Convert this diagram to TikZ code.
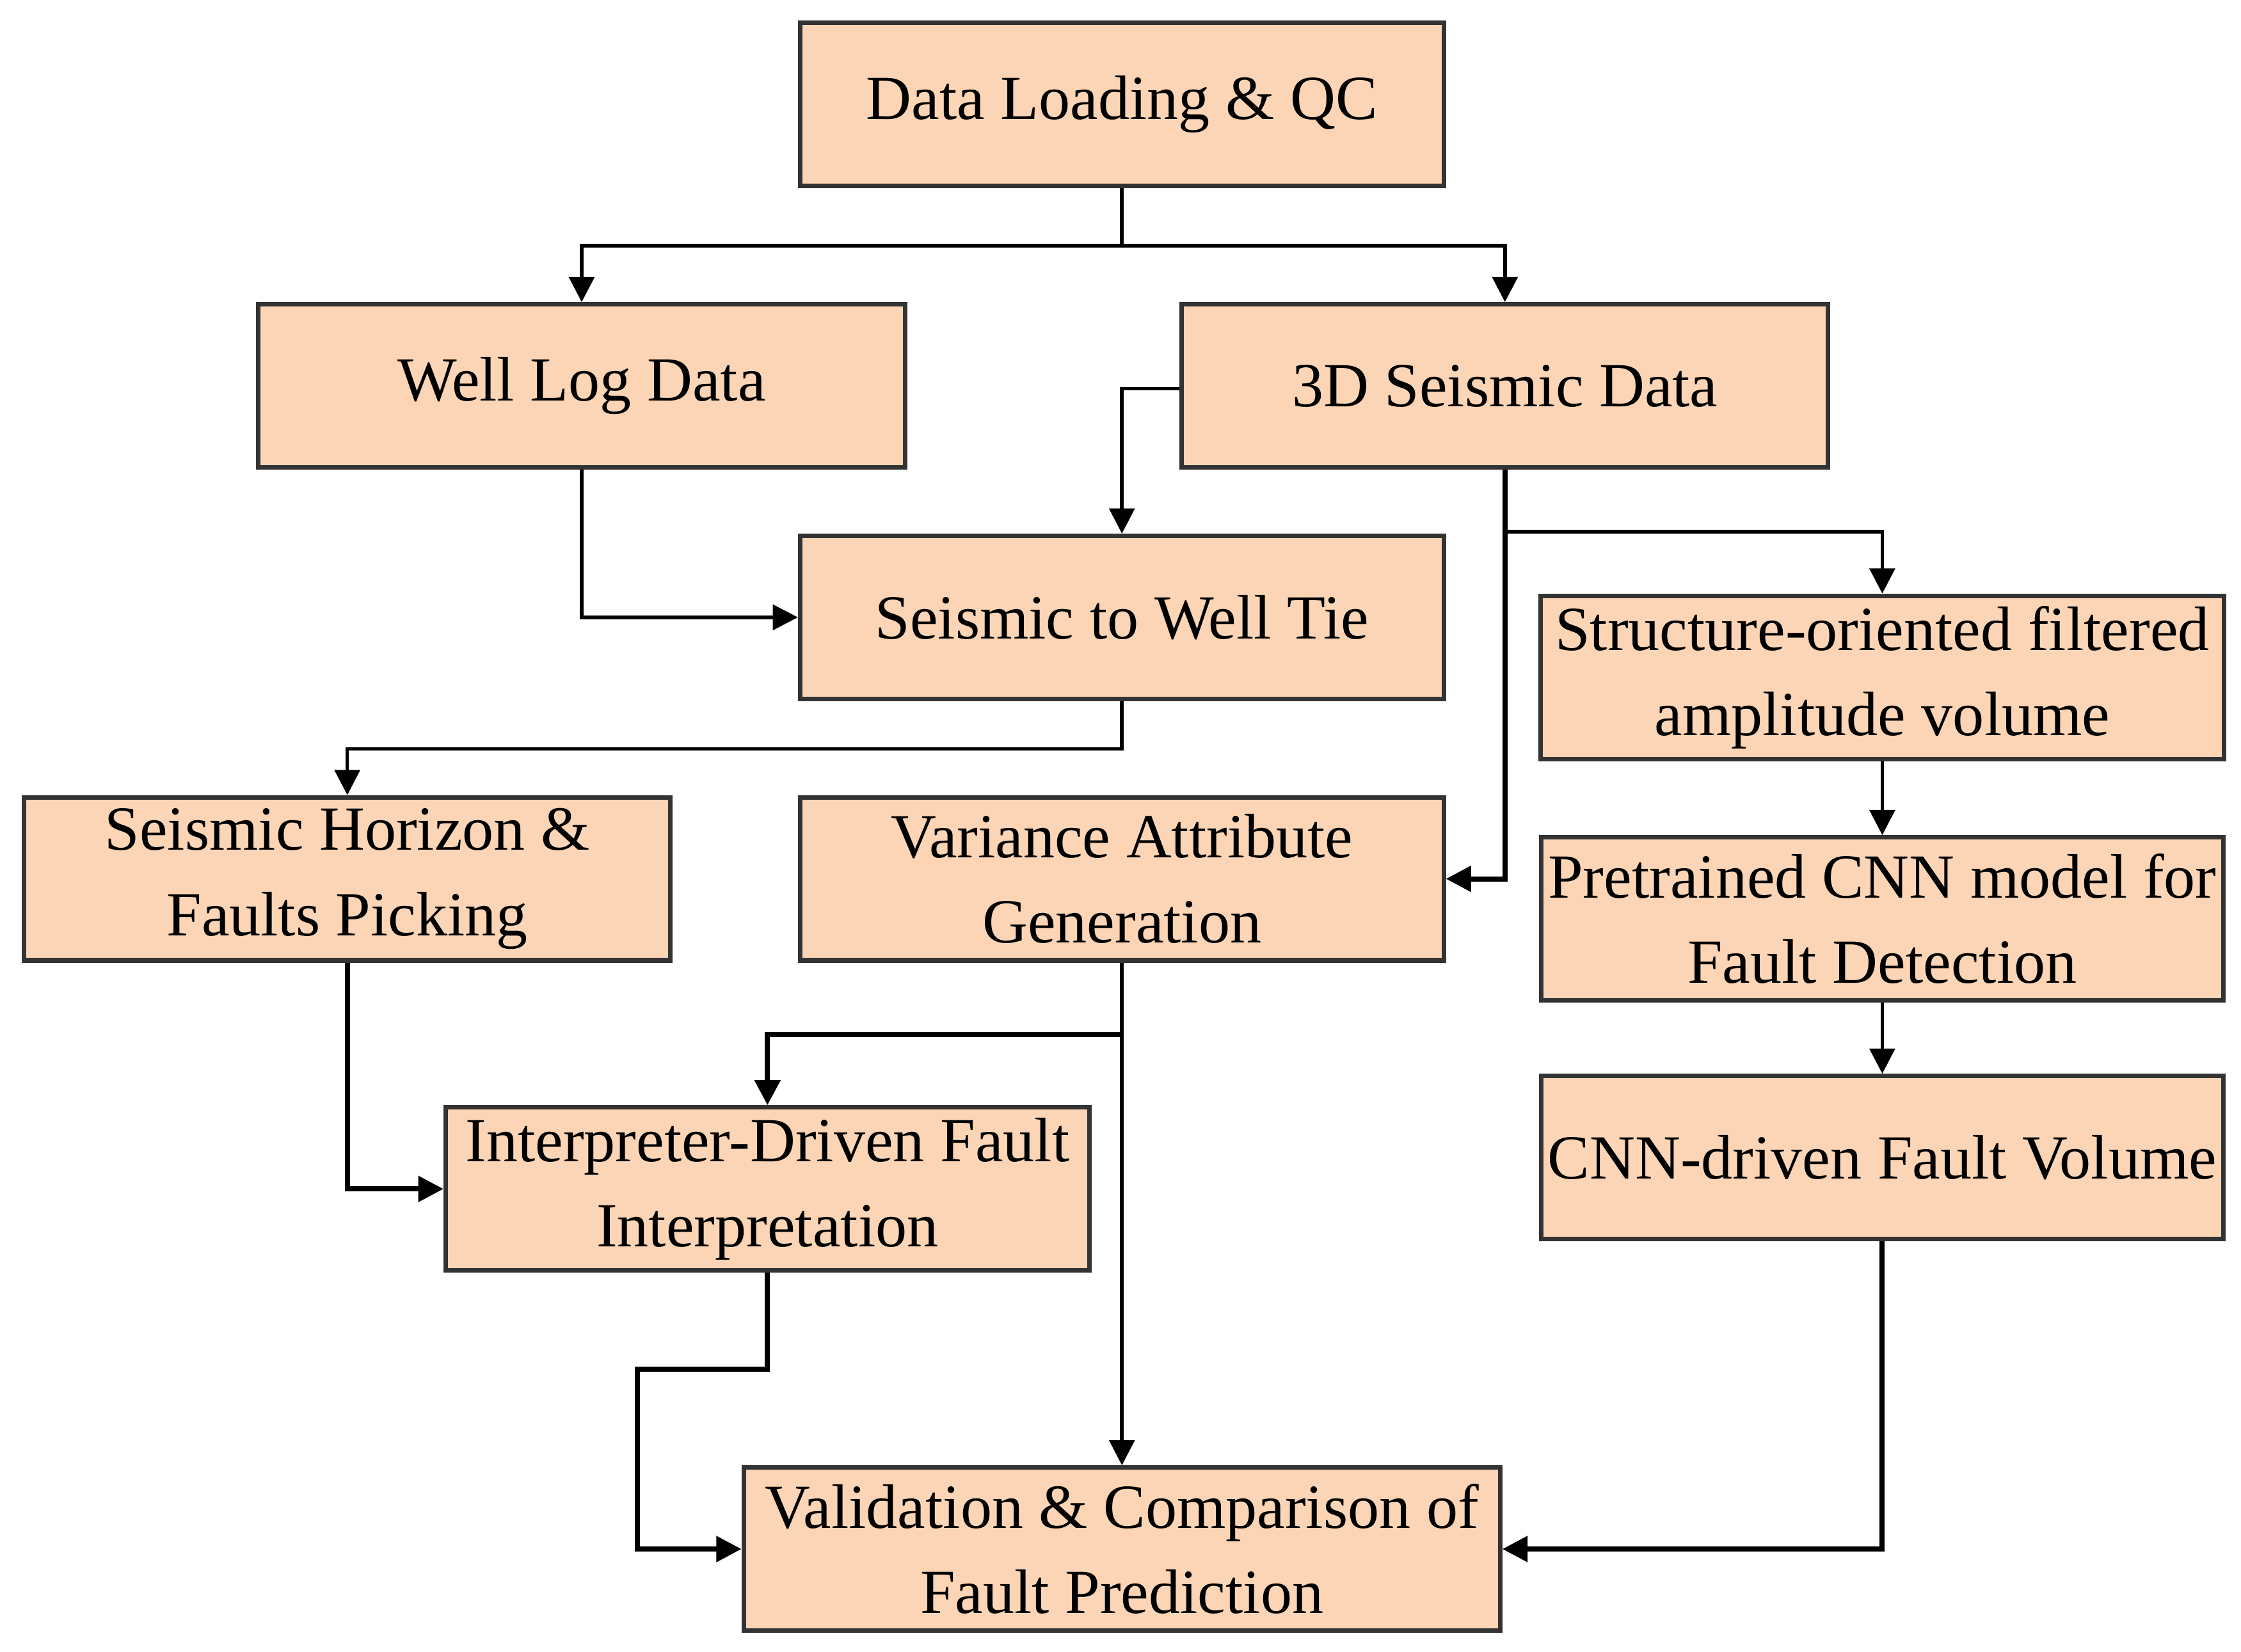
\documentclass[tikz,border=0pt]{standalone}
\usepackage{fontspec}
\setmainfont{Liberation Serif}
\usetikzlibrary{arrows.meta,calc}
\definecolor{peach}{HTML}{FBD5B5}
\begin{document}
\begin{tikzpicture}[x=0.01cm,y=-0.01cm,
  box/.style={draw=black!80,line width=0.9pt,fill=peach,minimum height=1.14cm,align=center,font=\fontsize{12.5}{17}\selectfont,inner sep=0pt},
  arr/.style={-{Triangle[length=5pt,width=5pt]},line width=0.7pt}]
\useasboundingbox (0,0) rectangle (1568,1156);
\node[box,minimum width=4.5cm] (dl) at (785,73) {Data Loading \& QC};
\node[box,minimum width=4.52cm] (wl) at (407,270) {Well Log Data};
\node[box,minimum width=4.52cm] (sd) at (1053,270) {3D Seismic Data};
\node[box,minimum width=4.5cm] (tie) at (785,432) {Seismic to Well Tie};
\node[box,minimum width=4.78cm] (so) at (1317,474) {Structure-oriented filtered\\amplitude volume};
\node[box,minimum width=4.52cm] (hz) at (243,615) {Seismic Horizon \&\\Faults Picking};
\node[box,minimum width=4.5cm] (va) at (785,615) {Variance Attribute\\Generation};
\node[box,minimum width=4.77cm] (cnn) at (1317,643) {Pretrained CNN model for\\Fault Detection};
\node[box,minimum width=4.5cm] (ip) at (537,832) {Interpreter-Driven Fault\\Interpretation};
\node[box,minimum width=4.77cm] (fv) at (1317,810) {CNN-driven Fault Volume};
\node[box,minimum width=5.29cm] (vc) at (785,1084) {Validation \& Comparison of\\Fault Prediction};
\coordinate (j1) at (785,172);
\draw[line width=0.7pt] (dl.south) -- (j1);
\draw[arr] (j1) -| (wl.north);
\draw[arr] (j1) -| (sd.north);
\draw[arr] (sd.west |- 0,272) -| (tie.north);
\draw[arr] (wl.south) |- (tie.west);
\draw[arr,line width=1pt] (sd.south) |- (va.east);
\draw[arr] (1053,372) -| (so.north);
\draw[arr] (tie.south) -- (785,524) -| (hz.north);
\draw[arr] (so) -- (cnn);
\draw[arr] (cnn) -- (fv);
\draw[arr] (va.south) -- (vc.north);
\draw[arr,line width=1pt] (785,724) -| (ip.north);
\draw[arr,line width=1pt] (hz.south) |- (ip.west);
\draw[arr,line width=1pt] (ip.south) -- (537,958) -- (446,958) |- (vc.west);
\draw[arr,line width=1pt] (fv.south) |- (vc.east);
\end{tikzpicture}
\end{document}
